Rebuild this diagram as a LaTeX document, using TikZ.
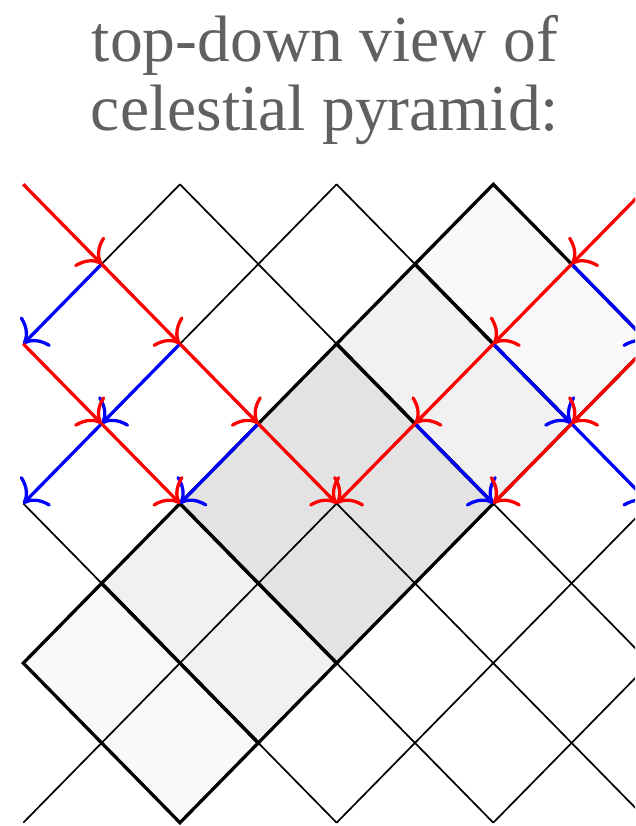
\documentclass[tikz,border=0pt]{standalone}
\usepackage{fontspec}
\setmainfont{Liberation Serif}
\usetikzlibrary{arrows.meta}
\definecolor{titlegray}{RGB}{96,96,96}
\definecolor{layerA}{RGB}{227,227,227}
\definecolor{layerB}{RGB}{241,241,241}
\definecolor{layerC}{RGB}{249,249,249}
\definecolor{arrred}{RGB}{255,0,0}
\definecolor{arrblue}{RGB}{0,0,255}
\begin{document}
\begin{tikzpicture}[x=0.3mm,y=-0.3mm,
  gridline/.style={draw=black,line width=1.45pt},
  ridge/.style={draw=black,line width=2.8pt,line join=miter},
  flowred/.style={draw=arrred,line width=2.8pt,-{Computer Modern Rightarrow[length=16pt,width=36pt]}},
  flowblue/.style={flowred,draw=arrblue},
  titletext/.style={text=titlegray,font=\fontsize{56}{56}\selectfont,anchor=base,inner sep=0pt}]
\useasboundingbox (0,0) rectangle (635,826);
\clip (0,0) rectangle (635,826);
\foreach \i in {0,...,8}{\foreach \j in {0,...,8}{\coordinate (p-\i-\j) at ({23.3+78.33*\i},{184.3+79.8*\j});}}
% fills
\fill[layerA] (p-4-2) -- (p-2-4) -- (p-4-6) -- (p-6-4) -- cycle;
\fill[layerB] (p-5-1) -- (p-4-2) -- (p-6-4) -- (p-7-3) -- cycle;
\fill[layerB] (p-2-4) -- (p-1-5) -- (p-3-7) -- (p-4-6) -- cycle;
\fill[layerC] (p-6-0) -- (p-5-1) -- (p-7-3) -- (p-8-2) -- cycle;
\fill[layerC] (p-1-5) -- (p-0-6) -- (p-2-8) -- (p-3-7) -- cycle;
% thin grid
\foreach \c [evaluate=\c as \d using int(8-\c)] in {0,2,4,6} {\draw[gridline] (p-\c-0) -- (p-8-\d);}
\foreach \c [evaluate=\c as \d using int(8-\c)] in {2,4,6} {\draw[gridline] (p-0-\c) -- (p-\d-8);}
\foreach \s in {2,4,6,8} {\draw[gridline] (p-0-\s) -- (p-\s-0);}
\foreach \s [evaluate=\s as \d using int(\s-8)] in {10,12,14} {\draw[gridline] (p-\d-8) -- (p-8-\d);}
% thick layer outlines
\draw[ridge] (p-4-2) -- (p-2-4) -- (p-4-6) -- (p-6-4) -- cycle;
\draw[ridge] (p-5-1) -- (p-4-2) -- (p-6-4) -- (p-7-3) -- cycle;
\draw[ridge] (p-2-4) -- (p-1-5) -- (p-3-7) -- (p-4-6) -- cycle;
\draw[ridge] (p-6-0) -- (p-5-1) -- (p-7-3) -- (p-8-2) -- cycle;
\draw[ridge] (p-1-5) -- (p-0-6) -- (p-2-8) -- (p-3-7) -- cycle;
% flows
\draw[flowblue] (p-1-1) -- (p-0-2);
\draw[flowblue] (p-2-2) -- (p-1-3);
\draw[flowblue] (p-1-3) -- (p-0-4);
\draw[flowblue] (p-3-3) -- (p-2-4);
\draw[flowblue] (p-7-1) -- (p-8-2);
\draw[flowblue] (p-6-2) -- (p-7-3);
\draw[flowblue] (p-7-3) -- (p-8-4);
\draw[flowblue] (p-5-3) -- (p-6-4);
\draw[flowred] (p-0-0) -- (p-1-1);
\draw[flowred] (p-1-1) -- (p-2-2);
\draw[flowred] (p-2-2) -- (p-3-3);
\draw[flowred] (p-3-3) -- (p-4-4);
\draw[flowred] (p-0-2) -- (p-1-3);
\draw[flowred] (p-1-3) -- (p-2-4);
\draw[flowred] (p-8-0) -- (p-7-1);
\draw[flowred] (p-7-1) -- (p-6-2);
\draw[flowred] (p-6-2) -- (p-5-3);
\draw[flowred] (p-5-3) -- (p-4-4);
\draw[flowred] (p-8-2) -- (p-7-3);
\draw[flowred] (p-7-3) -- (p-6-4);
% title
\node[titletext] (title1) at (325,61) {top-down view of};
\node[titletext] (title2) at (325,130) {celestial pyramid:};
\end{tikzpicture}
\end{document}
